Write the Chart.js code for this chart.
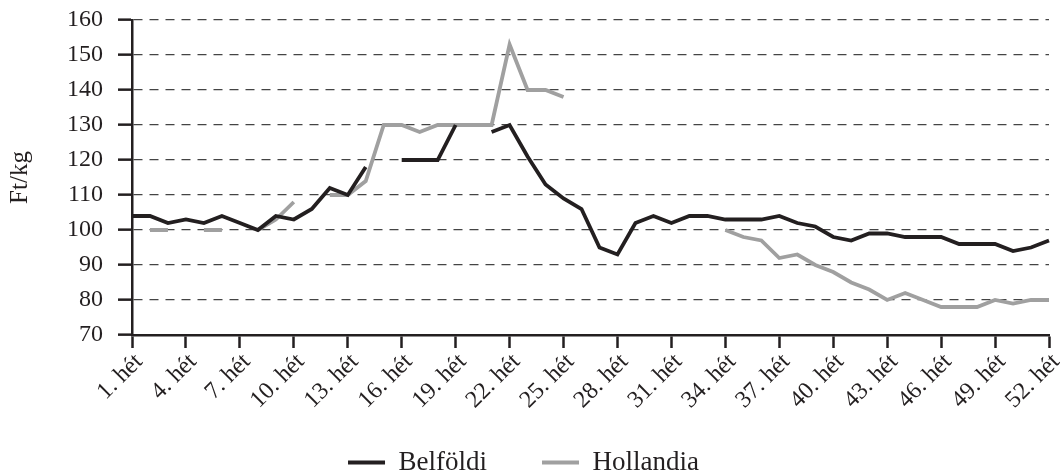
<!DOCTYPE html>
<html>
<head>
<meta charset="utf-8">
<script src="https://cdn.jsdelivr.net/npm/chart.js@4.4.1/dist/chart.umd.min.js"></script>
<style>
html,body{margin:0;padding:0;background:#fff;}
#wrap{width:1064px;height:476px;}
</style>
</head>
<body>
<div id="wrap"><canvas id="c" width="1064" height="476"></canvas></div>
<script>
const weekLabels = [
  "1. hét","2. hét","3. hét","4. hét","5. hét","6. hét","7. hét","8. hét","9. hét","10. hét",
  "11. hét","12. hét","13. hét","14. hét","15. hét","16. hét","17. hét","18. hét","19. hét","20. hét",
  "21. hét","22. hét","23. hét","24. hét","25. hét","26. hét","27. hét","28. hét","29. hét","30. hét",
  "31. hét","32. hét","33. hét","34. hét","35. hét","36. hét","37. hét","38. hét","39. hét","40. hét",
  "41. hét","42. hét","43. hét","44. hét","45. hét","46. hét","47. hét","48. hét","49. hét","50. hét",
  "51. hét","52. hét"
];

const belfoldi = [
  104,104,102,103,102,104,102,100,104,103,
  106,112,110,118,null,120,120,120,130,null,
  128,130,121,113,109,106,95,93,102,104,
  102,104,104,103,103,103,104,102,101,98,
  97,99,99,98,98,98,96,96,96,94,
  95,97
];

const hollandia = [
  null,100,100,null,100,100,null,100,103,108,
  null,110,110,114,130,130,128,130,130,130,
  130,153,140,140,138,null,null,null,null,null,
  null,null,null,100,98,97,92,93,90,88,
  85,83,80,82,80,78,78,78,80,79,
  80,80
];

const yTicks = { min: 70, max: 160, step: 10 };
const seriesNames = ["Belföldi", "Hollandia"];

const INK = '#231f20';
const GREY = '#a0a0a0';
const FONT = 'Liberation Serif';

// nudges the legend box into place after Chart.js has laid out the boxes
const legendNudge = {
  id: 'legendNudge',
  afterLayout(chart) {
    const l = chart.legend;
    if (!l) return;
    const dy = -21, dx = -1;
    l.top += dy; l.bottom += dy;
    l.left += dx; l.right += dx;
  }
};

new Chart(document.getElementById('c'), {
  type: 'line',
  data: {
    labels: weekLabels,
    datasets: [
      {
        label: seriesNames[0],
        data: belfoldi,
        borderColor: INK,
        backgroundColor: INK,
        borderWidth: 3.8,
        pointRadius: 0,
        tension: 0,
        spanGaps: false,
        fill: false
      },
      {
        label: seriesNames[1],
        data: hollandia,
        borderColor: GREY,
        backgroundColor: GREY,
        borderWidth: 3.8,
        pointRadius: 0,
        tension: 0,
        spanGaps: false,
        fill: false
      }
    ]
  },
  plugins: [legendNudge],
  options: {
    responsive: false,
    animation: false,
    devicePixelRatio: 1,
    layout: { padding: { top: 20, right: 15, bottom: -31, left: 0 } },
    plugins: {
      legend: {
        position: 'bottom',
        labels: {
          usePointStyle: true,
          pointStyle: 'line',
          pointStyleWidth: 37,
          padding: 55,
          color: INK,
          font: { family: FONT, size: 27 }
        }
      },
      tooltip: { enabled: false }
    },
    scales: {
      x: {
        grid: {
          drawOnChartArea: false,
          drawTicks: true,
          tickLength: 13,
          tickWidth: 2.5,
          tickColor: (ctx) => (ctx.index % 3 === 0 ? INK : 'rgba(0,0,0,0)')
        },
        border: { color: INK, width: 2.5 },
        ticks: {
          autoSkip: false,
          maxRotation: 45,
          minRotation: 45,
          padding: 0,
          labelOffset: 7,
          color: INK,
          font: { family: FONT, size: 24 },
          callback: (v, i) => (i % 3 === 0 ? weekLabels[i] : '')
        },
        afterFit: (s) => { s.height = 80; s.paddingLeft = 0; s.paddingRight = 0; }
      },
      y: {
        min: yTicks.min,
        max: yTicks.max,
        ticks: {
          stepSize: yTicks.step,
          padding: 15,
          color: INK,
          font: { family: FONT, size: 24 }
        },
        grid: {
          color: '#444',
          lineWidth: 1.3,
          tickLength: 14,
          tickWidth: 2.5,
          tickColor: INK,
          tickBorderDash: []
        },
        border: { color: INK, width: 2.5, dash: [9, 7] },
        title: {
          display: true,
          text: 'Ft/kg',
          color: INK,
          font: { family: FONT, size: 25 },
          padding: { top: 5, bottom: 0 }
        },
        afterFit: (s) => { s.width = 132; s.paddingTop = 0; s.paddingBottom = 0; }
      }
    }
  }
});
</script>
</body>
</html>
